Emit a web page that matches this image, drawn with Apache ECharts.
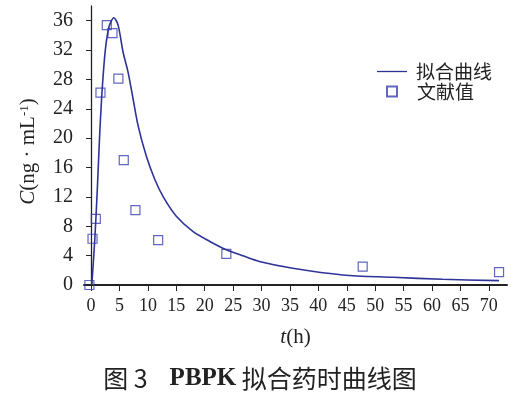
<!DOCTYPE html>
<html><head><meta charset="utf-8">
<script src="https://cdn.jsdelivr.net/npm/echarts@6/dist/echarts.min.js"></script>
<style>html,body{margin:0;padding:0;background:#fff}#c{width:520px;height:394px}</style>
</head><body><div id="c"></div>
<script>
// Fitted curve (t in h, C in ng/mL)
const fitT = [0.12,0.65,1.12,1.53,2.0,2.53,3.17,4.0,4.75,5.63,6.5,7.4,8.3,9.7,11.2,12.7,15,17.9,20.9,23.8,26.7,29.6,35.5,44.3,53.1,61.9,71.8];
const fitC = [0,6.2,13.5,20.8,27.2,32.2,35.2,36.4,35.4,31.7,29.0,25.3,21.6,17.6,14.4,12.0,9.36,7.3,5.93,4.8,3.97,3.2,2.28,1.37,1.05,0.78,0.59];
// Literature values
const litT = [-0.3,0.25,0.83,1.65,2.76,3.76,4.8,5.75,7.8,11.8,23.8,47.8,71.8];
const litC = [0,6.3,9.0,26.2,35.4,34.3,28.1,17.0,10.2,6.1,4.25,2.5,1.75];
const xTicks = [0,5,10,15,20,25,30,35,40,45,50,55,60,65,70];
const yTicks = [0,4,8,12,16,20,24,28,32,36];
const seriesNames = ['拟合曲线','文献值'];

const blue = '#2e3398';
const chart = echarts.init(document.getElementById('c'));
chart.setOption({
  animation:false,
  backgroundColor:'#fff',
  grid:{left:84,right:13,top:6,bottom:109},
  title:{
    text:'{a|图 3}{g|}{b|PBPK}{a| 拟合药时曲线图}',
    left:'center', top:361,
    textStyle:{rich:{
      a:{fontFamily:'Noto Sans CJK SC',fontWeight:'normal',fontSize:25,color:'#222'},
      g:{width:22},
      b:{fontFamily:'Liberation Serif',fontWeight:'bold',fontSize:25,color:'#222'}
    }}
  },
  legend:[{
    data:[{name:seriesNames[0],icon:'rect'}],
    orient:'vertical', left:372, top:57,
    itemWidth:30, itemHeight:1.3,
    textStyle:{fontFamily:'Noto Sans CJK SC',fontSize:19,color:'#222',padding:[0,0,0,4]}
  },{
    data:[{name:seriesNames[1]}],
    orient:'vertical', left:381, top:77,
    itemWidth:10, itemHeight:10,
    textStyle:{fontFamily:'Noto Sans CJK SC',fontSize:19,color:'#222',padding:[0,0,0,15]}
  }],
  xAxis:{
    type:'value', min:-1.25, max:73.2,
    name:'{i|t}{r|(h)}', nameLocation:'middle', nameGap:42,
    nameTextStyle:{rich:{
      i:{fontFamily:'Liberation Serif',fontStyle:'italic',fontSize:21,color:'#222'},
      r:{fontFamily:'Liberation Serif',fontSize:21,color:'#222'}
    }},
    axisLine:{lineStyle:{color:'#222',width:2}},
    axisTick:{customValues:xTicks,length:6,lineStyle:{color:'#222',width:1}},
    axisLabel:{customValues:xTicks,fontFamily:'Liberation Serif',fontSize:18,color:'#222',margin:12},
    splitLine:{show:false}
  },
  yAxis:{
    type:'value', min:0, max:38,
    name:'{i|C}{r|(ng · mL}{s|-1}{r|)}', nameLocation:'middle', nameGap:45,
    nameTextStyle:{padding:[0,12,0,0],rich:{
      i:{fontFamily:'Liberation Serif',fontStyle:'italic',fontSize:21,color:'#222'},
      r:{fontFamily:'Liberation Serif',fontSize:21,color:'#222'},
      s:{fontFamily:'Liberation Serif',fontSize:13,color:'#222',verticalAlign:'top',padding:[0,0,8,0]}
    }},
    axisLine:{show:true,lineStyle:{color:'#222',width:1.3}},
    axisTick:{show:true,customValues:yTicks,length:5,lineStyle:{color:'#222',width:1}},
    axisLabel:{customValues:yTicks,fontFamily:'Liberation Serif',fontSize:20,color:'#222',margin:11},
    splitLine:{show:false}
  },
  series:[{
    name:seriesNames[0], type:'line', smooth:0.3, symbol:'none',
    data:fitT.map((t,i)=>[t,fitC[i]]),
    lineStyle:{color:blue,width:1.6}, itemStyle:{color:blue}
  },{
    name:seriesNames[1], type:'scatter', symbol:'rect', symbolSize:9,
    data:litT.map((t,i)=>[t,litC[i]]),
    itemStyle:{color:'rgba(0,0,0,0)',borderColor:'#3a40b0',borderWidth:1.2}
  }]
});
</script></body></html>
